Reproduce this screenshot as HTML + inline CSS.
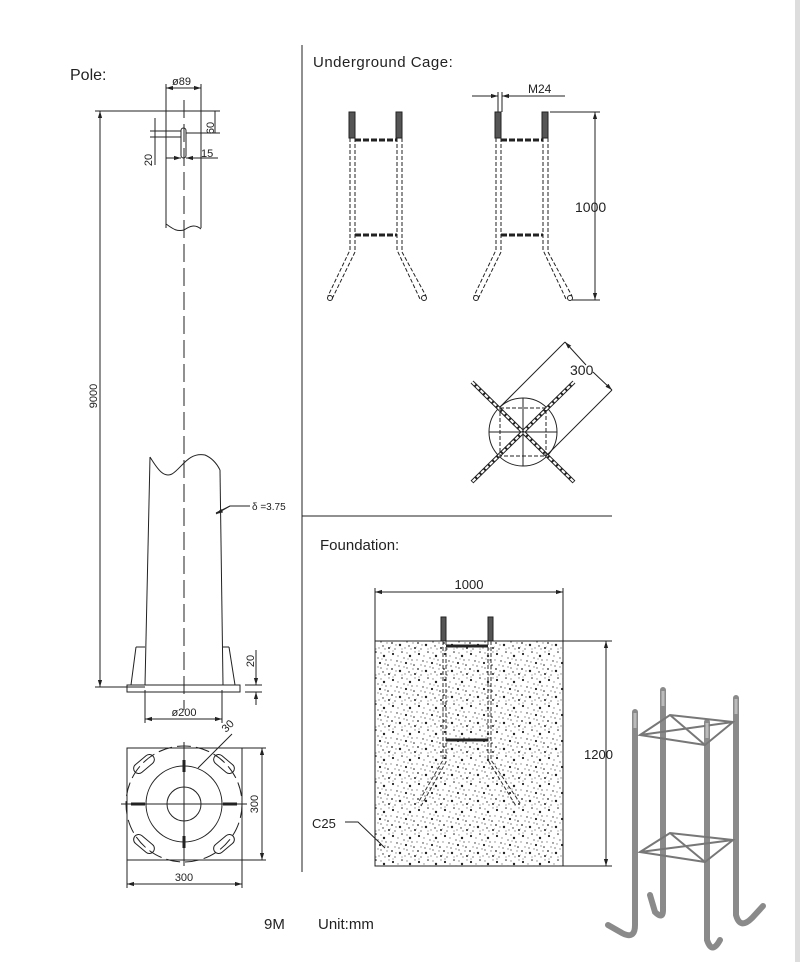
<!DOCTYPE html>
<html><head><meta charset="utf-8"><style>
html,body{margin:0;padding:0;background:#fff}
svg{display:block}
text{font-family:"Liberation Sans",sans-serif;fill:#222}
</style></head><body>
<svg width="800" height="962" viewBox="0 0 800 962" xmlns="http://www.w3.org/2000/svg">
<defs>
<marker id="a" viewBox="0 0 10 10" refX="10" refY="5" markerWidth="7" markerHeight="7" orient="auto-start-reverse"><path d="M0,2L10,5L0,8z" fill="#222"/></marker>
<pattern id="sp" width="26" height="26" patternUnits="userSpaceOnUse">
<g fill="#222">
<circle cx="3" cy="4" r="1.1"/><circle cx="12" cy="2" r=".8"/><circle cx="20" cy="6" r="1.2"/><circle cx="7" cy="11" r=".7"/><circle cx="16" cy="13" r="1.1"/><circle cx="24" cy="15" r=".8"/><circle cx="2" cy="19" r=".9"/><circle cx="10" cy="21" r="1.2"/><circle cx="19" cy="22" r=".7"/><circle cx="25" cy="24" r="1"/><circle cx="14" cy="8" r=".6"/><circle cx="5" cy="25" r=".6"/><circle cx="22" cy="10" r=".6"/><circle cx="9" cy="16" r=".6"/><circle cx="17" cy="18" r=".6"/>
</g>
<g fill="#888">
<circle cx="8" cy="6" r=".7"/><circle cx="17" cy="3" r=".7"/><circle cx="1" cy="10" r=".7"/><circle cx="11" cy="12" r=".7"/><circle cx="21" cy="14" r=".7"/><circle cx="5" cy="15" r=".7"/><circle cx="14" cy="17" r=".7"/><circle cx="23" cy="19" r=".7"/><circle cx="6" cy="21" r=".7"/><circle cx="15" cy="24" r=".7"/><circle cx="21" cy="25" r=".7"/><circle cx="25" cy="2" r=".7"/><circle cx="3" cy="1" r=".6"/><circle cx="18" cy="9" r=".6"/><circle cx="12" cy="25" r=".6"/><circle cx="0" cy="23" r=".6"/>
</g></pattern>
</defs>
<rect x="795" y="0" width="5" height="962" fill="#ddd"/>
<g stroke="#222" stroke-width="1" fill="none">
<line x1="302" y1="45" x2="302" y2="872"/>
<line x1="302" y1="516" x2="612" y2="516"/>
<line x1="166" y1="84" x2="166" y2="228"/>
<line x1="201" y1="84" x2="201" y2="228"/>
<line x1="166" y1="88" x2="201" y2="88" marker-start="url(#a)" marker-end="url(#a)"/>
<line x1="95" y1="111" x2="220" y2="111"/>
<path d="M166,224 C172,228 176,232 184,230 C190,226 195,224 201,229"/>
<rect x="181" y="128" width="5" height="30" rx="2.5"/>
<line x1="186" y1="133" x2="220" y2="133"/>
<line x1="215" y1="111" x2="215" y2="133"/>
<line x1="150" y1="131" x2="181" y2="131"/><line x1="150" y1="137" x2="181" y2="137"/>
<line x1="155" y1="118" x2="155" y2="165"/>
<line x1="166" y1="158" x2="181" y2="158" marker-end="url(#a)"/>
<line x1="186" y1="158" x2="218" y2="158" marker-start="url(#a)"/>
<line x1="100" y1="111" x2="100" y2="687" marker-start="url(#a)" marker-end="url(#a)"/>
<line x1="95" y1="687" x2="145" y2="687"/>
<line x1="184" y1="100" x2="184" y2="710" stroke-dasharray="18,6"/>
<path d="M150,457 L145,685"/>
<path d="M220,470 L223,685"/>
<path d="M150,457 C158,470 164,478 172,474 C182,468 188,452 205,455 C212,458 217,464 220,470"/>
<path d="M136,647 L131,685 M136,647 L145,647 M229,647 L235,685 M223,647 L229,647"/>
<rect x="127" y="685" width="113" height="7"/>
<line x1="245" y1="685" x2="262" y2="685"/><line x1="245" y1="692" x2="262" y2="692"/>
<line x1="256" y1="650" x2="256" y2="685" marker-end="url(#a)"/>
<line x1="256" y1="705" x2="256" y2="692" marker-end="url(#a)"/>
<line x1="145" y1="690" x2="145" y2="723"/><line x1="222" y1="690" x2="222" y2="723"/>
<line x1="145" y1="719" x2="222" y2="719" marker-start="url(#a)" marker-end="url(#a)"/>
<path d="M216,513 L230,506 L250,506"/>
<line x1="230" y1="506" x2="216" y2="514" marker-end="url(#a)"/>
<rect x="127" y="748" width="115" height="112"/>
<circle cx="184" cy="804" r="58" stroke-dasharray="14,5"/>
<circle cx="184" cy="804" r="38"/>
<circle cx="184" cy="804" r="17"/>
<line x1="184" y1="742" x2="184" y2="866"/><line x1="121" y1="804" x2="247" y2="804"/>
<g stroke-width="3"><line x1="184" y1="760" x2="184" y2="772"/><line x1="184" y1="836" x2="184" y2="848"/><line x1="131" y1="804" x2="145" y2="804"/><line x1="223" y1="804" x2="237" y2="804"/></g>
<g stroke-width="1">
<rect x="-12" y="-5" width="24" height="10" rx="5" transform="translate(144,764) rotate(-40)"/>
<rect x="-12" y="-5" width="24" height="10" rx="5" transform="translate(224,764) rotate(40)"/>
<rect x="-12" y="-5" width="24" height="10" rx="5" transform="translate(144,844) rotate(40)"/>
<rect x="-12" y="-5" width="24" height="10" rx="5" transform="translate(224,844) rotate(-40)"/>
</g>
<line x1="198" y1="768" x2="232" y2="734"/>
<line x1="242" y1="748" x2="266" y2="748"/><line x1="242" y1="860" x2="266" y2="860"/>
<line x1="262" y1="748" x2="262" y2="860" marker-start="url(#a)" marker-end="url(#a)"/>
<line x1="127" y1="860" x2="127" y2="888"/><line x1="242" y1="860" x2="242" y2="888"/>
<line x1="127" y1="884" x2="242" y2="884" marker-start="url(#a)" marker-end="url(#a)"/>
</g>
<g stroke="#222" fill="none">
<g id="cg">
<rect x="349" y="112" width="6" height="26" fill="#555" stroke-width="1"/>
<rect x="396" y="112" width="6" height="26" fill="#555" stroke-width="1"/>
<path d="M350,138 V250 L328,296 M355,138 V252 L332,299 M397,138 V250 L420,299 M402,138 V252 L426,296" stroke-dasharray="4,2"/>
<line x1="355" y1="140" x2="397" y2="140" stroke-width="3" stroke-dasharray="6,2"/>
<line x1="355" y1="235" x2="397" y2="235" stroke-width="3" stroke-dasharray="6,2"/>
<circle cx="330" cy="298" r="2.5"/><circle cx="424" cy="298" r="2.5"/>
</g>
<use href="#cg" x="146"/>
<line x1="498" y1="92" x2="498" y2="112"/><line x1="502" y1="92" x2="502" y2="112"/>
<line x1="472" y1="96" x2="498" y2="96" marker-end="url(#a)"/>
<line x1="565" y1="96" x2="502" y2="96" marker-start="url(#a)" transform="rotate(180 533.5 96)"/>
<line x1="550" y1="112" x2="600" y2="112"/><line x1="572" y1="300" x2="600" y2="300"/>
<line x1="595" y1="112" x2="595" y2="300" marker-start="url(#a)" marker-end="url(#a)"/>
<circle cx="523" cy="432" r="34"/>
<path d="M472,382 L574,482 M574,382 L472,482" stroke-width="4" stroke="#222"/>
<path d="M472,382 L574,482 M574,382 L472,482" stroke-width="2" stroke="#fff" stroke-dasharray="4,2"/>
<rect x="500" y="408" width="46" height="48" stroke-dasharray="4,2"/>
<line x1="523" y1="398" x2="523" y2="466"/><line x1="489" y1="432" x2="557" y2="432"/>
<line x1="500" y1="407" x2="565" y2="342"/><line x1="546" y1="456" x2="612" y2="390"/>
<line x1="565" y1="342" x2="586" y2="365" marker-start="url(#a)"/>
<line x1="612" y1="390" x2="593" y2="372" marker-start="url(#a)"/>
</g>
<rect x="375" y="641" width="188" height="225" fill="url(#sp)" stroke="#222"/>
<g stroke="#222" fill="none">
<line x1="375" y1="588" x2="375" y2="641"/><line x1="563" y1="588" x2="563" y2="866"/>
<line x1="375" y1="592" x2="563" y2="592" marker-start="url(#a)" marker-end="url(#a)"/>
<line x1="563" y1="641" x2="612" y2="641"/><line x1="563" y1="866" x2="612" y2="866"/>
<line x1="606" y1="641" x2="606" y2="866" marker-start="url(#a)" marker-end="url(#a)"/>
<rect x="441" y="617" width="5" height="24" fill="#555"/>
<rect x="488" y="617" width="5" height="24" fill="#555"/>
<path d="M443,641 V760 L418,803 M446,641 V762 L421,806 M488,641 V760 L516,806 M491,641 V760 L520,803" stroke-dasharray="4,2" stroke="#333"/>
<line x1="446" y1="646" x2="488" y2="646" stroke-width="3"/>
<line x1="446" y1="740" x2="488" y2="740" stroke-width="3"/>
<path d="M345,822 L358,822 L385,848"/>
</g>
<g stroke="#8a8a8a" stroke-width="6" fill="none" stroke-linecap="round">
<path d="M635,712 V925 Q635,940 622,933 L608,925"/>
<path d="M663,690 V910 Q663,920 655,912 L650,895"/>
<path d="M707,722 V940 Q712,955 720,940"/>
<path d="M736,698 V915 Q740,930 752,918 L763,906"/>
</g>
<g stroke="#777" stroke-width="2" fill="none">
<path d="M640,735 L670,715 L733,722 L705,745 Z M640,735 L705,745 M670,715 L705,745 M640,735 L733,722"/>
<path d="M640,852 L670,833 L733,840 L705,862 Z M640,852 L705,862 M670,833 L705,862 M640,852 L733,840"/>
</g>
<g stroke="#bbb" stroke-width="3"><line x1="635" y1="713" x2="635" y2="728"/><line x1="663" y1="691" x2="663" y2="706"/><line x1="707" y1="723" x2="707" y2="738"/><line x1="736" y1="699" x2="736" y2="714"/></g>
<text x="70" y="80" font-size="16">Pole:</text>
<text x="172" y="85" font-size="11">ø89</text>
<text x="214" y="128" font-size="11" transform="rotate(-90 214 128)" text-anchor="middle">60</text>
<text x="152" y="160" font-size="11" transform="rotate(-90 152 160)" text-anchor="middle">20</text>
<text x="201" y="157" font-size="11">15</text>
<text x="97" y="396" font-size="11" transform="rotate(-90 97 396)" text-anchor="middle">9000</text>
<text x="252" y="510" font-size="10">δ =3.75</text>
<text x="254" y="661" font-size="11" transform="rotate(-90 254 661)" text-anchor="middle">20</text>
<text x="184" y="716" font-size="11" text-anchor="middle">ø200</text>
<text x="226" y="733" font-size="11" transform="rotate(-45 226 733)">30</text>
<text x="258" y="804" font-size="11" transform="rotate(-90 258 804)" text-anchor="middle">300</text>
<text x="184" y="881" font-size="11" text-anchor="middle">300</text>
<text x="264" y="929" font-size="15">9M</text>
<text x="318" y="929" font-size="15">Unit:mm</text>
<text x="313" y="67" font-size="15" letter-spacing="0.5">Underground  Cage:</text>
<text x="528" y="93" font-size="12">M24</text>
<text x="575" y="212" font-size="14">1000</text>
<text x="570" y="375" font-size="14">300</text>
<text x="320" y="550" font-size="15">Foundation:</text>
<text x="469" y="589" font-size="13" text-anchor="middle">1000</text>
<text x="584" y="759" font-size="13">1200</text>
<text x="312" y="828" font-size="13">C25</text>
</svg>
</body></html>
